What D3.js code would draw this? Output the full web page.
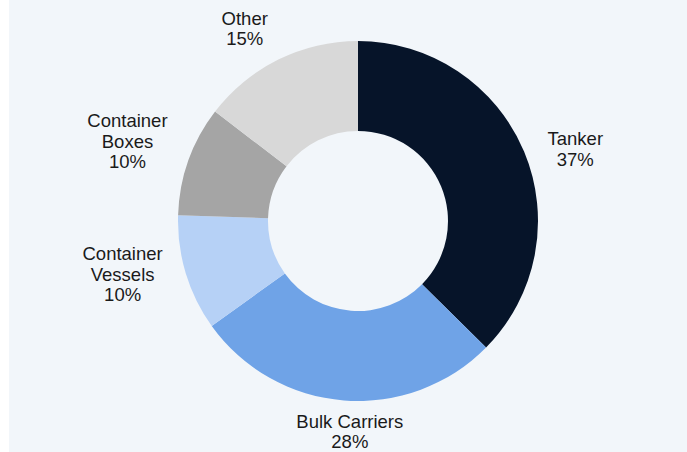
<!DOCTYPE html>
<html>
<head>
<meta charset="utf-8">
<script src="https://cdn.jsdelivr.net/npm/d3@7"></script>
<style>
  body { margin: 0; background: #ffffff; }
  text { font-family: "Liberation Sans", Arial, sans-serif; font-size: 18.5px; fill: #1a1a1a; }
</style>
</head>
<body>
<script>
// share of vessels by type, clockwise from 12 o'clock
const categories = ["Tanker", "Bulk Carriers", "Container Vessels", "Container Boxes", "Other"];
const labelLines = [["Tanker"], ["Bulk Carriers"], ["Container", "Vessels"], ["Container", "Boxes"], ["Other"]];
const shares = [37.4, 27.7, 10.4, 9.9, 14.6];
const colors = ["#061429", "#6fa3e7", "#b6d1f6", "#a5a5a5", "#d8d8d8"];

// label layout: small angle nudges (degrees) away from each slice's mid angle
const labelNudge = [4.9, -2.3, 3.7, -1.0, -4.5];

let w = 687;
let h = 452;
let cx = 358;
let cy = 221;
let rOuter = 180;
let rInner = 90;
let labelR = 196;
let lineH = 20.5;

const svg = d3.select("body")
  .append("svg")
  .attr("width", w)
  .attr("height", h);

svg.append("rect")
  .attr("x", 9)
  .attr("y", 0)
  .attr("width", w - 9)
  .attr("height", h)
  .attr("fill", "#f2f6fa");

const data = categories.map(function(c, i) {
  return { name: c, lines: labelLines[i], value: shares[i], color: colors[i], nudge: labelNudge[i] };
});

const pie = d3.pie()
  .sort(null)
  .value(function(d) { return d.value; });

const arc = d3.arc()
  .innerRadius(rInner)
  .outerRadius(rOuter);

const arcs = pie(data);

const g = svg.append("g")
  .attr("transform", "translate(" + cx + "," + cy + ")");

g.selectAll("path")
  .data(arcs)
  .enter()
  .append("path")
  .attr("d", arc)
  .attr("fill", function(d) { return d.data.color; });

// labels: box sits just outside the ring along the slice's mid angle
const labels = g.selectAll("g.label")
  .data(arcs)
  .enter()
  .append("g")
  .attr("class", "label");

labels.each(function(d) {
  const lab = d3.select(this);
  const lines = d.data.lines.concat([Math.round(d.data.value) + "%"]);
  const t = lab.append("text").attr("text-anchor", "middle");
  lines.forEach(function(s, i) {
    t.append("tspan")
      .attr("x", 0)
      .attr("y", i * lineH)
      .text(s);
  });
  let bw = 0;
  t.selectAll("tspan").each(function() {
    bw = Math.max(bw, this.getComputedTextLength());
  });
  const bh = lines.length * lineH;
  const a = (d.startAngle + d.endAngle) / 2 + d.data.nudge * Math.PI / 180;
  const sx = Math.sin(a), sy = -Math.cos(a);
  // text box is tighter than full line boxes vertically
  const dist = labelR + Math.abs(sx) * bw / 2 + Math.abs(sy) * bh / 2 - 5.5 * sy * sy;
  const mx = sx * dist;
  const my = sy * dist;
  // baseline of first line: box center minus half height plus ascent
  const top = my - bh / 2 + 14.5;
  lab.attr("transform", "translate(" + mx + "," + top + ")");
});
</script>
</body>
</html>
